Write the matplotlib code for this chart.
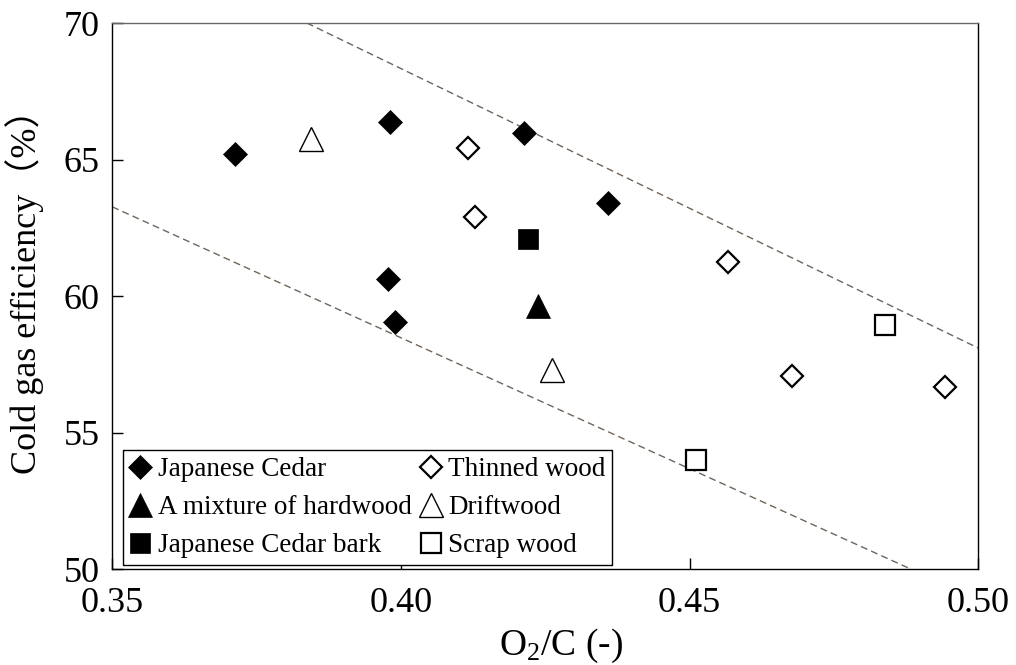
import matplotlib
matplotlib.use("Agg")
import matplotlib.pyplot as plt

plt.rcParams['font.family'] = ['Liberation Serif', 'Noto Sans CJK JP', 'DejaVu Sans']
plt.rcParams['mathtext.fontset'] = 'custom'
plt.rcParams['mathtext.rm'] = 'Liberation Serif'
plt.rcParams['mathtext.it'] = 'Liberation Serif:italic'

# ---- data ----
jc_x = [0.3712, 0.3981, 0.4213, 0.4359, 0.3978, 0.3990]
jc_y = [65.19, 66.38, 65.96, 63.40, 60.61, 59.06]
mix_x = [0.4238]
mix_y = [59.65]
bark_x = [0.4220]
bark_y = [62.09]
thin_x = [0.4116, 0.4129, 0.4566, 0.4678, 0.4942]
thin_y = [65.43, 62.88, 61.26, 57.08, 56.66]
drift_x = [0.3845, 0.4261]
drift_y = [65.76, 57.31]
scrap_x = [0.4839, 0.4511]
scrap_y = [58.96, 54.02]

upper_x = [0.3837, 0.50]
upper_y = [70.0, 58.1]
lower_x = [0.35, 0.4884]
lower_y = [63.27, 50.0]

xticks = [0.35, 0.40, 0.45, 0.50]
xticklabels = ['0.35', '0.40', '0.45', '0.50']
yticks = [50, 55, 60, 65, 70]

fig = plt.figure(figsize=(10.16, 6.65), dpi=100)
ax = fig.add_axes([0.1105, 0.1439, 0.8524, 0.8215])

dash_col = '#6f655a'
ax.plot(upper_x, upper_y, color=dash_col, lw=1.0, dashes=(5, 3), zorder=1)
ax.plot(lower_x, lower_y, color=dash_col, lw=1.0, dashes=(5, 3), zorder=1)

ax.plot(jc_x, jc_y, ls='none', marker='D', ms=12.5, mfc='black', mec='black',
        mew=0.5, label='Japanese Cedar', zorder=3)
ax.plot(mix_x, mix_y, ls='none', marker='^', ms=17.5, mfc='black', mec='black',
        mew=0.5, label='A mixture of hardwood', zorder=3)
ax.plot(bark_x, bark_y, ls='none', marker='s', ms=15, mfc='black', mec='black',
        mew=0.5, label='Japanese Cedar bark', zorder=3)
ax.plot(thin_x, thin_y, ls='none', marker='D', ms=11.5, mfc='white', mec='black',
        mew=1.6, label='Thinned wood', zorder=3)
ax.plot(drift_x, drift_y, ls='none', marker='^', ms=17.5, mfc='white', mec='black',
        mew=1.0, label='Driftwood', zorder=3)
ax.plot(scrap_x, scrap_y, ls='none', marker='s', ms=15, mfc='white', mec='black',
        mew=1.6, label='Scrap wood', zorder=3)

ax.set_xlim(0.35, 0.50)
ax.set_ylim(50, 70)
ax.set_xticks(xticks)
ax.set_xticklabels(xticklabels)
ax.set_yticks(yticks)

ax.tick_params(axis='both', direction='in', length=8, width=1, labelsize=26,
               top=False, right=False)
ax.tick_params(axis='x', pad=13)
ax.tick_params(axis='y', pad=9)

for s in ['left', 'bottom', 'right']:
    ax.spines[s].set_color('black')
    ax.spines[s].set_linewidth(1.0)
ax.spines['top'].set_color('#666666')
ax.spines['top'].set_linewidth(1.0)

ax.set_xlabel(r'O$_\mathregular{2}$/C (-)', fontsize=27)
ax.xaxis.set_label_coords(0.518, -0.105)
ax.set_ylabel('Cold gas efficiency（%）', fontsize=26)
ax.yaxis.set_label_coords(-0.079, 0.525)

leg = ax.legend(ncol=2, loc='lower left', bbox_to_anchor=(0.012, 0.008),
                borderaxespad=0, fontsize=19.5, frameon=True, fancybox=False,
                edgecolor='black', framealpha=1, handlelength=0.8,
                handletextpad=0.25, columnspacing=0.3, labelspacing=0.48,
                borderpad=0.25, numpoints=1)
leg.get_frame().set_linewidth(1.0)

fig.savefig('out.png', dpi=100)
